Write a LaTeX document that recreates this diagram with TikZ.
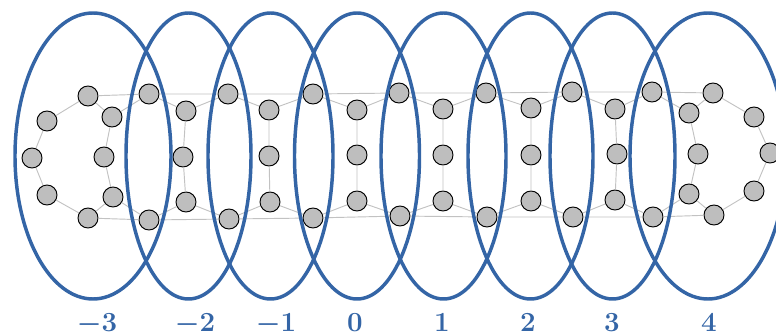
\documentclass[tikz,border=0pt]{standalone}
\definecolor{bagblue}{HTML}{3465A6}
\definecolor{edgegray}{HTML}{C2C2C2}
\definecolor{nodegray}{HTML}{BEBEBE}
\begin{document}
\begin{tikzpicture}[x=0.75pt,y=-0.75pt,
  vtx/.style={circle,draw=black,fill=nodegray,line width=0.7pt,minimum size=15pt,inner sep=0pt},
  edge/.style={draw=edgegray,line width=0.7pt},
  bag/.style={draw=bagblue,line width=2.6pt},
  lbl/.style={text=bagblue,inner sep=0pt,anchor=base,font=\bfseries\boldmath\fontsize{21.5}{24}\selectfont}]
\useasboundingbox (0,0) rectangle (776,335);
\begin{scope}
\clip (0,0) rectangle (776,335);
% top and bottom rows
\foreach \i/\x/\y in {0/88/96,1/149/94,2/228/94,3/313/94,4/399/93,5/486/93,6/572/92,7/652/92,8/713/93}
  \node[vtx] (T\i) at (\x,\y) {};
\foreach \i/\x/\y in {0/88/218,1/149/220,2/229/219,3/313/218,4/400/216,5/487/217,6/573/217,7/653/217,8/714/215}
  \node[vtx] (B\i) at (\x,\y) {};
% middle columns
\foreach \k/\xa/\ya/\xb/\yb/\xc/\yc in {1/112/117/104/157/113/197,2/186/111/183/157/186/202,3/269/110/269/156/270/202,4/357/110/357/155/357/201,5/443/109/443/155/443/201,6/531/108/531/155/531/201,7/615/109/617/154/615/200,8/689/113/698/154/689/194}
{
  \node[vtx] (A\k) at (\xa,\ya) {};
  \node[vtx] (M\k) at (\xb,\yb) {};
  \node[vtx] (C\k) at (\xc,\yc) {};
}
% end arcs
\node[vtx] (L2) at (47,121) {};
\node[vtx] (L3) at (32,158) {};
\node[vtx] (L4) at (47,195) {};
\node[vtx] (R2) at (754,117) {};
\node[vtx] (R3) at (770,153) {};
\node[vtx] (R4) at (754,191) {};
% edges
\foreach \k in {1,...,8}{
  \pgfmathtruncatemacro\j{\k-1}
  \draw[edge] (T\j)--(T\k) (B\j)--(B\k) (T\j)--(A\k)--(T\k) (A\k)--(M\k)--(C\k) (B\j)--(C\k)--(B\k);
}
\draw[edge] (T0)--(L2)--(L3)--(L4)--(B0);
\draw[edge] (T8)--(R2)--(R3)--(R4)--(B8);
% bags
\draw[bag] (93,156) ellipse [x radius=58.5pt, y radius=107.25pt];
\foreach \cx in {188.5,270.5,357,443.5,530.5,612.5}
  \draw[bag] (\cx,156) ellipse [x radius=46.875pt, y radius=107.25pt];
\draw[bag] (708,156) ellipse [x radius=58.5pt, y radius=107.25pt];
\end{scope}
% labels
\foreach \x/\t [count=\n] in {97/{$-3$},195/{$-2$},276/{$-1$},355/{$0$},442/{$1$},528/{$2$},612/{$3$},709/{$4$}}
  \node[lbl] (lab\n) at (\x,331) {\t};
\end{tikzpicture}
\end{document}
